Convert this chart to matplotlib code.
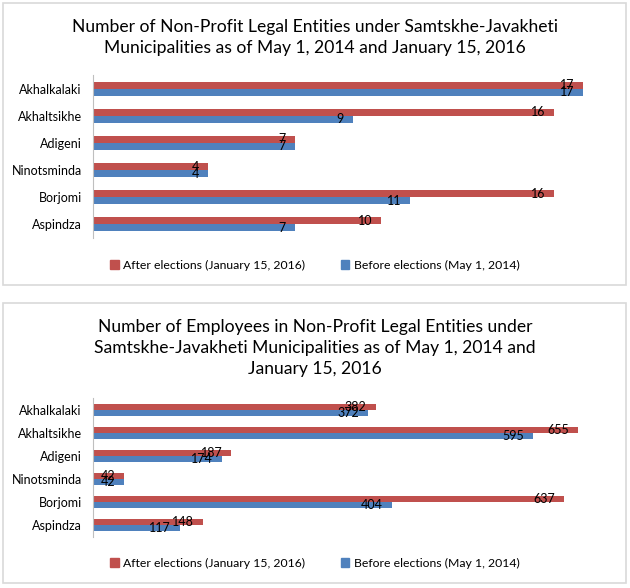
import numpy as np
import matplotlib
matplotlib.use("Agg")
import matplotlib.pyplot as plt
from matplotlib.patches import Rectangle, Patch

plt.rcParams['font.family'] = ['Lato', 'DejaVu Sans']

RED = "#C0504D"
BLUE = "#4F81BD"
BORDER = "#D9D9D9"

municipalities = ["Akhalkalaki", "Akhaltsikhe", "Adigeni", "Ninotsminda", "Borjomi", "Aspindza"]

entities_after = [17, 16, 7, 4, 16, 10]
entities_before = [17, 9, 7, 4, 11, 7]

employees_after = [382, 655, 187, 42, 637, 148]
employees_before = [372, 595, 174, 42, 404, 117]

legend_after = "After elections (January 15, 2016)"
legend_before = "Before elections (May 1, 2014)"

title_top = ("Number of Non-Profit Legal Entities under Samtskhe-Javakheti\n"
             "Municipalities as of May 1, 2014 and January 15, 2016")
title_bottom = ("Number of Employees in Non-Profit Legal Entities under\n"
                "Samtskhe-Javakheti Municipalities as of May 1, 2014 and\n"
                "January 15, 2016")

W, H = 630, 588
fig = plt.figure(figsize=(W / 100, H / 100), dpi=100)


def px_box(x0, y0, x1, y1):
    # pixel box (top-left origin) -> figure fraction [left, bottom, width, height]
    return [x0 / W, 1 - y1 / H, (x1 - x0) / W, (y1 - y0) / H]


def draw_panel(box):
    l, b, w, h = px_box(*box)
    fig.patches.append(Rectangle((l, b), w, h, transform=fig.transFigure,
                                 fill=False, edgecolor=BORDER, linewidth=1.2))


def bar_chart(ax_box, after, before, xmax):
    ax = fig.add_axes(px_box(*ax_box))
    y = np.arange(len(municipalities))
    h = 0.26
    bars_a = ax.barh(y - h / 2, after, height=h, color=RED)
    bars_b = ax.barh(y + h / 2, before, height=h, color=BLUE)
    for bars, vals in ((bars_a, after), (bars_b, before)):
        for bar, v in zip(bars, vals):
            ax.annotate(str(v), (bar.get_width(), bar.get_y() + bar.get_height() / 2),
                        xytext=(-6.5, 0), textcoords="offset points",
                        ha="right", va="center", fontsize=9, color="black")
    ax.set_xlim(0, xmax)
    ax.set_ylim(len(municipalities) - 0.5, -0.5)
    ax.set_yticks(y)
    ax.set_yticklabels(municipalities, fontsize=9)
    ax.tick_params(axis="y", length=0, pad=8)
    ax.xaxis.set_visible(False)
    for s in ("top", "right", "bottom"):
        ax.spines[s].set_visible(False)
    ax.spines["left"].set_color("#BFBFBF")
    return ax


def legend_at(ypx):
    handles = [Patch(color=RED, label=legend_after), Patch(color=BLUE, label=legend_before)]
    fig.legend(handles=handles, loc="center", bbox_to_anchor=(0.5, 1 - ypx / H),
               ncol=2, frameon=False, fontsize=8.8, handlelength=0.7, handleheight=0.7,
               handletextpad=0.4, columnspacing=2.9)


# top panel
draw_panel((3, 3, 626, 285))
fig.text(315 / W, 1 - 37.5 / H, title_top, ha="center", va="center", fontsize=12.6,
         linespacing=1.38)
bar_chart((93, 75, 612, 238), entities_after, entities_before, 18)
legend_at(265)

# bottom panel
draw_panel((3, 303, 626, 583))
fig.text(315 / W, 1 - 348 / H, title_bottom, ha="center", va="center", fontsize=12.6,
         linespacing=1.38)
bar_chart((93, 398, 611, 537), employees_after, employees_before, 700)
legend_at(563)

fig.savefig("out.png", dpi=100)
